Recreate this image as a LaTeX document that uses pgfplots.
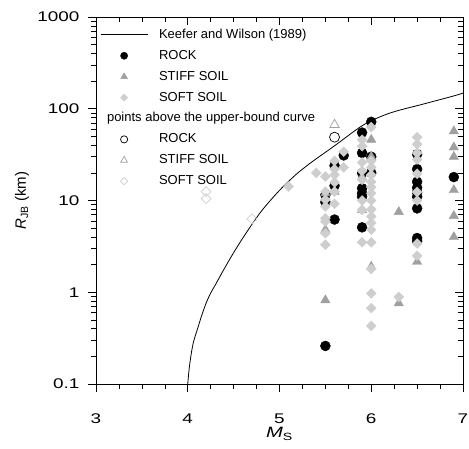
\documentclass[border=0pt]{standalone}
\usepackage{graphicx}
\usepackage{pgfplots}
\pgfplotsset{compat=1.18}
\usepackage{fontspec}
\setmainfont{Liberation Sans}
\definecolor{stiff}{RGB}{160,160,160}
\definecolor{soft}{RGB}{206,206,206}
\newcommand{\tkl}[1]{\scalebox{1.35}[1]{#1}}

\pgfplotsset{
  legmark/.style={legend image code/.code={%
    \draw[mark repeat=2,mark phase=2,##1,every mark/.append style={scale=0.72}]
      plot coordinates {(0pt,0pt) (23.5pt,0pt) (47pt,0pt)};}},
  kwline/.style={legend image code/.code={\draw[##1] (0pt,0pt) -- (47pt,0pt);}},
  rock/.style={only marks, mark=*, mark size=5pt, draw=black, fill=black, legmark},
  stiffsoil/.style={only marks, mark=triangle*, mark size=5.4pt, draw=stiff, fill=stiff, legmark},
  softsoil/.style={only marks, mark=square*, mark size=3.5pt, mark options={rotate=45}, draw=soft, fill=soft, legmark},
  rockopen/.style={only marks, mark=o, mark size=5pt, draw=black, line width=0.7pt, legmark},
  stiffopen/.style={only marks, mark=triangle, mark size=5.4pt, draw=stiff, line width=0.7pt, legmark},
  softopen/.style={only marks, mark=square, mark size=3.5pt, mark options={rotate=45}, draw=soft, line width=0.7pt, legmark},
}

\begin{document}
\begin{tikzpicture}
\begin{axis}[name=main, scale only axis, width=367pt, height=367pt,
  xmin=3, xmax=7, ymode=log, ymin=0.1, ymax=1000,
  xtick={3,4,5,6,7}, minor x tick num=3,
  ytick={0.1,1,10,100,1000},
  major tick length=8pt, minor tick length=5pt,
  tick style={black, line width=0.6pt},
  axis line style={line width=0.6pt},
  xtick pos=left, ytick pos=left, tick align=outside,
  /pgf/number format/assume math mode=true,
  xticklabels={\tkl{3},\tkl{4},\tkl{5},\tkl{6},\tkl{7}},
  yticklabels={\tkl{0.1},\tkl{1},\tkl{10},\tkl{100},\tkl{1000}},
  tick label style={font=\fontsize{14}{17}\selectfont},
  xticklabel style={yshift=-18pt},
  yticklabel style={xshift=-5pt},
  label style={font=\fontsize{15}{18}\selectfont},
  xlabel={\tkl{\textit{M}\textsubscript{S}}},
  ylabel={\textit{R}\textsubscript{JB} (km)},
  xlabel style={at={(rel axis cs:0.5,0)}, anchor=center, yshift=-50pt},
  ylabel style={at={(rel axis cs:0,0.5)}, anchor=center, yshift=74pt},
  legend style={draw=none, fill=none, at={(0.011,0.975)}, anchor=north west,
    inner sep=0pt, column sep=9pt, row sep=3.9pt,
    font=\fontsize{13}{15}\selectfont,
    nodes={inner sep=2pt, text height=10pt, text depth=3pt}},
  legend cell align=left,
]
% Keefer and Wilson (1989) upper bound
\addplot[black, line width=0.8pt, smooth, kwline] coordinates {
  (4.0,0.1) (4.01,0.13) (4.02,0.16) (4.04,0.22) (4.06,0.28) (4.08,0.33)
  (4.1,0.38) (4.15,0.55) (4.2,0.76) (4.25,0.98) (4.3,1.2) (4.4,1.82)
  (4.5,2.7) (4.6,3.9) (4.7,5.5) (4.8,7.6) (4.9,10) (5.0,12.9)
  (5.1,16.2) (5.2,20) (5.3,24) (5.4,28.5) (5.5,33.5) (5.6,39.5)
  (5.7,46.8) (5.8,55.6) (5.9,65.3) (6.0,74) (6.1,82) (6.2,89.5)
  (6.3,96) (6.4,102) (6.5,108) (6.7,122) (6.9,138) (7.0,148)
};
\addlegendentry{Keefer and Wilson (1989)}

\addplot[rock] coordinates {
  (5.5,0.26) (5.5,9.6) (5.5,11.5)
  (5.6,6.2) (5.6,14.5) (5.6,24)
  (5.7,31)
  (5.9,5.1) (5.9,11) (5.9,12) (5.9,13.6) (5.9,20) (5.9,33) (5.9,55)
  (6.0,20) (6.0,30) (6.0,72)
  (6.5,3.6) (6.5,3.9) (6.5,8.2) (6.5,11) (6.5,12.3) (6.5,13.8) (6.5,16) (6.5,22) (6.5,32)
  (6.9,18)
};
\addlegendentry{ROCK}

\addplot[stiffsoil] coordinates {
  (5.5,0.82) (5.5,4.8) (5.5,12)
  (5.6,12.5)
  (5.9,7.9) (5.9,18)
  (6.0,1.9) (6.0,30) (6.0,46)
  (6.3,0.76) (6.3,7.5)
  (6.5,2.15)
  (6.9,4.0) (6.9,6.8) (6.9,13) (6.9,30) (6.9,38) (6.9,57)
};
\addlegendentry{STIFF SOIL}

\addplot[softsoil] coordinates {
  (5.1,14.2) (5.4,20)
  (5.5,3.3) (5.5,4.4) (5.5,5.9) (5.5,6.4) (5.5,8.6) (5.5,10.2) (5.5,12.5) (5.5,18.3)
  (5.6,9.2) (5.6,12.5) (5.6,15.8) (5.6,19) (5.6,22) (5.6,27)
  (5.7,23) (5.7,34)
  (5.9,3.5) (5.9,7.9) (5.9,10) (5.9,16.8) (5.9,21) (5.9,26) (5.9,39) (5.9,46)
  (6.0,0.43) (6.0,0.67) (6.0,0.97) (6.0,1.8) (6.0,3.5) (6.0,4.8) (6.0,5.7) (6.0,6.7)
  (6.0,8) (6.0,10) (6.0,12) (6.0,14) (6.0,16) (6.0,19) (6.0,23) (6.0,27) (6.0,63)
  (6.3,0.89)
  (6.5,2.5) (6.5,3.4) (6.5,10) (6.5,12.4) (6.5,19.6) (6.5,28) (6.5,33) (6.5,41) (6.5,49)
};
\addlegendentry{SOFT SOIL}

\addlegendimage{empty legend}
\addlegendentry{\hspace*{-52pt}points above the upper-bound curve}

\addplot[rockopen] coordinates {(5.6,49)};
\addlegendentry{ROCK}
\addplot[stiffopen] coordinates {(5.6,67)};
\addlegendentry{STIFF SOIL}
\addplot[softopen] coordinates {(4.2,12.5) (4.2,10.5) (4.7,6.3)};
\addlegendentry{SOFT SOIL}
\end{axis}

\begin{axis}[scale only axis, width=367pt, height=367pt,
  xmin=3, xmax=7, ymode=log, ymin=0.1, ymax=1000,
  xtick={3,4,5,6,7}, minor x tick num=3,
  ytick={0.1,1,10,100,1000},
  major tick length=8pt, minor tick length=5pt,
  tick style={black, line width=0.6pt},
  axis line style={line width=0.6pt},
  xtick pos=right, ytick pos=right, tick align=inside,
  xticklabels={}, yticklabels={},
]
\end{axis}
\pgfresetboundingbox
\path[use as bounding box] (main.south west) ++(-96pt,-64pt) rectangle ++(469pt,448pt);
\end{tikzpicture}
\end{document}
